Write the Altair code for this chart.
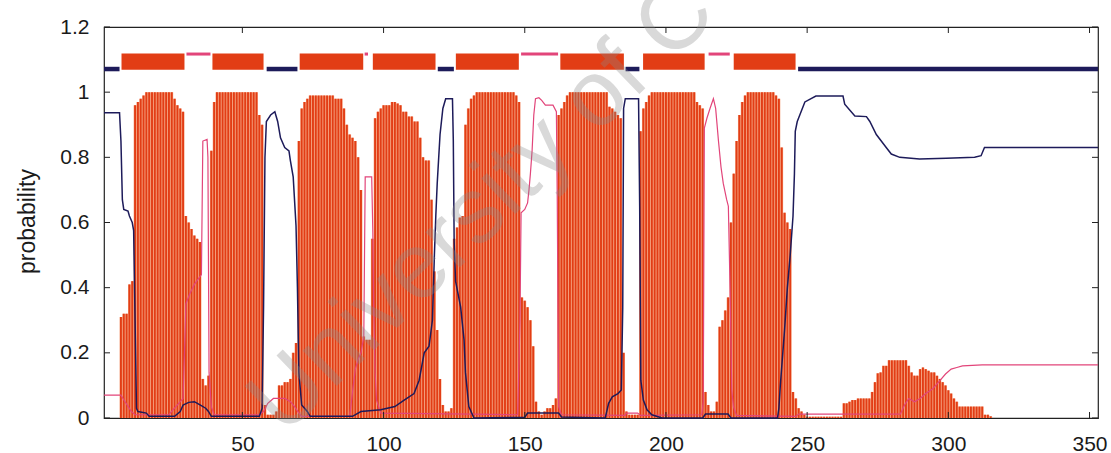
import altair as alt
import pandas as pd

# ---------------- data ----------------
# posterior probability of transmembrane helix, residues 1..353
tm = [
    0, 0, 0, 0, 0, 0, 0.31, 0.32, 0.32, 0.41,
    0.42, 0.96, 0.97, 0.98, 0.99, 1.0, 1.0, 1.0, 1.0, 1.0,
    1.0, 1.0, 1.0, 1.0, 1.0, 0.98, 0.96, 0.95, 0.94, 0.62,
    0.60, 0.58, 0.56, 0.55, 0.54, 0.12, 0.10, 0.13, 0.82, 0.97,
    1.0, 1.0, 1.0, 1.0, 1.0, 1.0, 1.0, 1.0, 1.0, 1.0,
    1.0, 1.0, 1.0, 1.0, 1.0, 0.93, 0.90, 0.04, 0.01, 0.01,
    0.01, 0.02, 0.10, 0.10, 0.11, 0.11, 0.12, 0.20, 0.23, 0.85,
    0.95, 0.97, 0.98, 0.99, 0.99, 0.99, 0.99, 0.99, 0.99, 0.99,
    0.99, 0.99, 0.98, 0.98, 0.98, 0.95, 0.90, 0.87, 0.86, 0.85,
    0.80, 0.70, 0.25, 0.24, 0.24, 0.55, 0.92, 0.94, 0.95, 0.96,
    0.96, 0.96, 0.97, 0.97, 0.965, 0.96, 0.94, 0.94, 0.925, 0.925,
    0.91, 0.91, 0.86, 0.80, 0.79, 0.79, 0.67, 0.45, 0.27, 0.12,
    0.04, 0.02, 0.02, 0.03, 0.55, 0.585, 0.615, 0.62, 0.90, 0.95,
    0.98, 0.99, 1.0, 1.0, 1.0, 1.0, 1.0, 1.0, 1.0, 1.0,
    1.0, 1.0, 1.0, 1.0, 1.0, 1.0, 0.99, 0.97, 0.37, 0.36,
    0.34, 0.30, 0.22, 0.05, 0.02, 0.01, 0.02, 0.03, 0.03, 0.04,
    0.06, 0.93, 0.95, 0.97, 0.99, 1.0, 1.0, 1.0, 1.0, 1.0,
    1.0, 1.0, 1.0, 1.0, 1.0, 1.0, 1.0, 1.0, 1.0, 0.955,
    0.95, 0.94, 0.93, 0.92, 0.20, 0.02, 0.01, 0.01, 0.01, 0.01,
    0.88, 0.95, 0.97, 0.99, 1.0, 1.0, 1.0, 1.0, 1.0, 1.0,
    1.0, 1.0, 1.0, 1.0, 1.0, 1.0, 1.0, 1.0, 1.0, 1.0,
    0.97, 0.96, 0.95, 0.08, 0.04, 0.02, 0.02, 0.05, 0.28, 0.30,
    0.33, 0.37, 0.60, 0.75, 0.85, 0.93, 0.97, 0.99, 1.0, 1.0,
    1.0, 1.0, 1.0, 1.0, 1.0, 1.0, 1.0, 1.0, 0.99, 0.98,
    0.83, 0.63, 0.60, 0.58, 0.08, 0.06, 0.03, 0.02, 0.01, 0.004,
    0.004, 0.004, 0.004, 0.004, 0.004, 0.004, 0.004, 0.004, 0.004, 0.004,
    0.004, 0.004, 0.045, 0.045, 0.05, 0.055, 0.055, 0.06, 0.06, 0.06,
    0.06, 0.06, 0.08, 0.11, 0.137, 0.14, 0.16, 0.16, 0.177, 0.177,
    0.177, 0.177, 0.177, 0.177, 0.177, 0.16, 0.14, 0.13, 0.13, 0.15,
    0.155, 0.15, 0.145, 0.14, 0.14, 0.13, 0.12, 0.11, 0.10, 0.085,
    0.075, 0.06, 0.05, 0.035, 0.035, 0.035, 0.035, 0.035, 0.035, 0.035,
    0.035, 0.035, 0.01, 0.01, 0.005, 0, 0, 0, 0, 0,
    0, 0, 0, 0, 0, 0, 0, 0, 0, 0,
    0, 0, 0, 0, 0, 0, 0, 0, 0, 0,
    0, 0, 0, 0, 0, 0, 0, 0, 0, 0,
    0, 0, 0,
]
residue = list(range(1, len(tm) + 1))

# probability of "inside" (navy line): vertices (residue, probability)
inside_r = [1, 6.5, 7, 7.5, 8, 9.5, 10, 11, 11.5, 12, 12.5, 13, 16, 17, 26, 28, 29, 31, 33, 35,
            37, 38, 39, 56, 57, 57.5, 58, 58.5, 60, 61.5, 62.5, 63.5, 65, 66.5, 67, 68, 69, 69.5, 70, 71,
            73, 74, 89, 92, 99, 104, 107.3, 110.8, 112.6, 114.4, 116.1, 117.3, 118, 118.5, 119, 120, 121, 122, 124.4, 124.7,
            125, 125.5, 127.3, 128.5, 129, 130.2, 132, 150, 151, 162, 163, 178.5, 179.7, 181, 183, 184.2, 184.7, 185, 185.6, 190.3,
            190.7, 191.1, 192, 193.3, 195, 198.6, 213, 214, 222, 223, 239.5, 240, 240.5, 242, 243, 244, 245, 245.5, 245.8, 246.5,
            247.4, 249.2, 253.1, 262.7, 263.3, 266.9, 271, 272.2, 274.5, 278, 279.8, 282.8, 289.8, 299.3, 309.3, 311.6, 312.8, 353]
inside_p = [0.937, 0.937, 0.85, 0.67, 0.64, 0.635, 0.62, 0.6, 0.575, 0.3, 0.03, 0.02, 0.015, 0.005, 0.005, 0.02, 0.04, 0.048, 0.05, 0.04,
            0.03, 0.02, 0.005, 0.005, 0.03, 0.34, 0.8, 0.91, 0.93, 0.94, 0.91, 0.86, 0.83, 0.82, 0.79, 0.74, 0.59, 0.4, 0.14, 0.04,
            0.02, 0.005, 0.005, 0.02, 0.025, 0.035, 0.055, 0.075, 0.116, 0.2, 0.22, 0.3, 0.5, 0.62, 0.72, 0.87, 0.95, 0.98, 0.98, 0.85,
            0.54, 0.42, 0.34, 0.24, 0.14, 0.035, 0.0, 0.002, 0.015, 0.015, 0.003, 0.0, 0.045, 0.065, 0.075, 0.086, 0.34, 0.95, 0.98, 0.98,
            0.65, 0.116, 0.055, 0.025, 0.01, 0.0, 0.0, 0.012, 0.012, 0.0, 0.0, 0.03, 0.1, 0.27, 0.4, 0.5, 0.62, 0.75, 0.88, 0.91,
            0.93, 0.97, 0.988, 0.988, 0.963, 0.927, 0.925, 0.91, 0.87, 0.83, 0.81, 0.8, 0.795, 0.797, 0.8, 0.805, 0.83, 0.83]

# probability of "outside" (magenta line): vertices (residue, probability)
outside_r = [1, 7, 8, 10.7, 12, 24, 25.4, 27, 29, 29.5, 30, 31.3, 33, 35.5, 36, 37.5, 37.8, 38.2, 39, 40,
             56, 57.5, 59, 61, 65, 67, 68.5, 70, 71, 88, 89, 90, 91, 92, 93, 93.5, 95.8, 96.2, 96.5, 97,
             97.5, 99, 131, 147.5, 148.3, 148.7, 150, 151, 151.5, 152, 152.6, 153.2, 153.8, 155, 156, 157.3, 160, 161.2, 161.5, 162,
             163, 185.5, 186, 190, 191, 212.7, 213.2, 213.6, 214.5, 215.6, 216.8, 217.6, 218.6, 219.5, 220.3, 221.5, 222.1, 222.7, 223.3, 223.9,
             225, 246, 247, 283, 284.5, 286, 288, 290, 292, 294.5, 297, 299, 301, 303, 305, 312, 353]
outside_p = [0.07, 0.07, 0.056, 0.02, 0.01, 0.01, 0.025, 0.04, 0.06, 0.2, 0.35, 0.38, 0.41, 0.44, 0.85, 0.855, 0.8, 0.14, 0.035, 0.01,
             0.01, 0.02, 0.045, 0.06, 0.06, 0.05, 0.035, 0.015, 0.005, 0.005, 0.08, 0.15, 0.18, 0.2, 0.25, 0.74, 0.74, 0.57, 0.34, 0.14,
             0.055, 0.015, 0.012, 0.01, 0.3, 0.63, 0.64, 0.66, 0.7, 0.75, 0.82, 0.93, 0.98, 0.983, 0.975, 0.96, 0.96, 0.94, 0.68, 0.035,
             0.01, 0.008, 0.015, 0.015, 0.008, 0.01, 0.05, 0.89, 0.92, 0.95, 0.98, 0.95, 0.85, 0.77, 0.72, 0.67, 0.65, 0.4, 0.086, 0.035,
             0.008, 0.005, 0.012, 0.012, 0.04, 0.06, 0.05, 0.06, 0.075, 0.09, 0.115, 0.135, 0.15, 0.155, 0.16, 0.163, 0.163]

# predicted topology (top band)
seg_start = [1, 7.2, 30.2, 39.4, 58.6, 70.3, 93.3, 96.2, 119.2, 125.6, 148.7, 162.6, 185.7, 191.9, 215.1, 224, 246.8]
seg_end = [6.5, 29.5, 38.7, 57.5, 69.5, 92.8, 94.5, 118.4, 124.9, 147.9, 161.8, 185.1, 190.6, 213.7, 222.6, 245.9, 353]
seg_kind = ["inside", "TMhelix", "outside", "TMhelix", "inside", "TMhelix", "outside", "TMhelix", "inside",
            "TMhelix", "outside", "TMhelix", "inside", "TMhelix", "outside", "TMhelix", "inside"]

x_ticks = [50, 100, 150, 200, 250, 300, 350]
y_ticks = [0, 0.2, 0.4, 0.6, 0.8, 1, 1.2]
watermark = ["University of C"]

# ---------------- chart ----------------
W, H = 994, 391
FONT = "Liberation Sans"
RED = "#e23d15"
LIGHT = "#f5a583"
NAVY = "#1d1b5a"
PINK = "#e2457a"

tm_df = pd.DataFrame({"r": residue, "tm": tm})
in_df = pd.DataFrame({"r": inside_r, "p": inside_p})
out_df = pd.DataFrame({"r": outside_r, "p": outside_p})
seg_df = pd.DataFrame({"start": seg_start, "end": seg_end, "kind": seg_kind})
xt_df = pd.DataFrame({"v": x_ticks})
yt_df = pd.DataFrame({"v": y_ticks})

xs = alt.Scale(domain=[1, 353], nice=False, zero=False)
ys = alt.Scale(domain=[0, 1.2], nice=False, zero=False)

x_axis = alt.Axis(values=x_ticks, ticks=False, tickSize=0, domain=False, grid=False,
                  labelFont=FONT, labelFontSize=21, labelColor="#1a1a1a", labelPadding=15,
                  title=None)
y_axis = alt.Axis(values=y_ticks, ticks=False, tickSize=0, domain=False, grid=False,
                  labelFont=FONT, labelFontSize=21, labelColor="#1a1a1a", labelPadding=15,
                  labelExpr="format(datum.value, '~g')",
                  title="probability", titleFont=FONT, titleFontSize=23, titleFontWeight="normal",
                  titleColor="#1a1a1a", titleX=-77, titleY=194, titleAngle=270,
                  titleAlign="center", titleBaseline="middle")


def X(field):
    return alt.X(field, scale=xs, axis=x_axis)


def Y(field):
    return alt.Y(field, scale=ys, axis=y_axis)


area = alt.Chart(tm_df).mark_area(interpolate="step", color=LIGHT).encode(
    x=X("r:Q"), y=Y("tm:Q"),
)
bars = alt.Chart(tm_df).mark_rule(color=RED, strokeWidth=1.9).encode(
    x=X("r:Q"), y=Y("tm:Q"), y2=alt.datum(0),
)
tm_boxes = alt.Chart(seg_df).transform_filter(alt.datum.kind == "TMhelix").mark_rect(color=RED).encode(
    x=X("start:Q"), x2="end:Q",
    y=alt.datum(1.069), y2=alt.datum(1.119),
)
in_segs = alt.Chart(seg_df).transform_filter(alt.datum.kind == "inside").mark_rule(
    color=NAVY, strokeWidth=4.5).encode(
    x=X("start:Q"), x2="end:Q", y=alt.datum(1.071),
)
out_segs = alt.Chart(seg_df).transform_filter(alt.datum.kind == "outside").mark_rule(
    color=PINK, strokeWidth=3).encode(
    x=X("start:Q"), x2="end:Q", y=alt.datum(1.117),
)
out_line = alt.Chart(out_df).mark_line(color=PINK, strokeWidth=1.2).encode(
    x=X("r:Q"), y=Y("p:Q"),
)
in_line = alt.Chart(in_df).mark_line(color=NAVY, strokeWidth=1.5).encode(
    x=X("r:Q"), y=Y("p:Q"),
)
tick_style = dict(color="#222222", strokeWidth=1)
left_ticks = alt.Chart(yt_df).mark_rule(**tick_style).encode(
    y=Y("v:Q"), x=alt.value(0), x2=alt.value(6))
right_ticks = alt.Chart(yt_df).mark_rule(**tick_style).encode(
    y=Y("v:Q"), x=alt.value(W - 6), x2=alt.value(W))
bottom_ticks = alt.Chart(xt_df).mark_rule(**tick_style).encode(
    x=X("v:Q"), y=alt.value(H - 6), y2=alt.value(H))
top_ticks = alt.Chart(xt_df).mark_rule(**tick_style).encode(
    x=X("v:Q"), y=alt.value(0), y2=alt.value(6))
wm = alt.Chart(pd.DataFrame({"t": watermark})).mark_text(
    angle=316, fontSize=93, font=FONT, color="#8a8a8a", opacity=0.32,
    align="center", baseline="middle").encode(
    text="t:N", x=alt.value(378), y=alt.value(180))

chart = alt.layer(
    area, bars, tm_boxes, in_segs, out_segs, out_line, in_line,
    left_ticks, right_ticks, bottom_ticks, top_ticks, wm,
).properties(
    width=W, height=H,
    padding={"left": 104, "top": 27, "right": 13, "bottom": 35},
    autosize=alt.AutoSizeParams(type="none"),
    background="white",
).configure_view(stroke="#222222", strokeWidth=1.2)

chart.save("out.html", embed_options={"renderer": "svg", "actions": False})
